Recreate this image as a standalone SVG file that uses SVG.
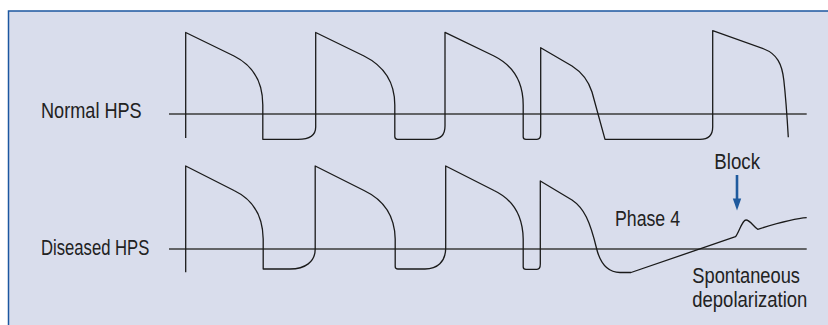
<svg xmlns="http://www.w3.org/2000/svg" width="828" height="325" viewBox="0 0 828 325">
  <style>
    .txt { font-family: "Liberation Sans", Arial, sans-serif; font-size: 21.5px; fill: #222; }
    .base { stroke: #3a3a3a; stroke-width: 1.6; fill: none; }
    .trace { stroke: #1a1a1a; stroke-width: 1.3; fill: none; stroke-linejoin: round; }
    .arrow { stroke: #1f5a9e; stroke-width: 2.6; fill: none; }
  </style>
  <rect x="0" y="0" width="828" height="325" fill="#ffffff"/>
  <rect id="panel" x="8.5" y="11" width="840" height="330" fill="#d9ddec" stroke="#1c57a0" stroke-width="1.5"/>

  <g id="normal">
    <text class="txt" x="41" y="118.3" textLength="100.7" lengthAdjust="spacingAndGlyphs">Normal HPS</text>
    <line class="base" x1="169" y1="114" x2="806.7" y2="114"/>
    <path class="trace" d="M185.7,138 V32.5 L234,56 C254,66 262.8,82 262.8,105 V139.3 H298 C310,139.3 315.7,135 315.7,127 V32.5 L364,56 C384,66 394.8,82 394.8,105 V136.5 C394.8,138.6 395.5,139.3 397.5,139.3 H432 C441,139.3 445,135 445,126 V32.3 L494,56 C514,66 523.2,82 523.2,105 V137 C523.2,139 524,139.3 526,139.3 H537 C539.5,139.3 540.7,137 540.7,134 V47.7 L572,66 C583,73 588.5,81 592,92 L605,139.3 H700 C708,139.3 712.7,135 712.7,127 V30.7 L764,49 C777,54 782,64 783.8,80 C785.5,95 787,115 788.3,137.3"/>
  </g>

  <g id="diseased">
    <text class="txt" x="41" y="255" textLength="108.3" lengthAdjust="spacingAndGlyphs">Diseased HPS</text>
    <line class="base" x1="169" y1="249" x2="806.7" y2="249"/>
    <path class="trace" d="M185.7,272.3 V166 L234,190.5 C254,200 262.8,216 263.2,239 V269 H290 C305,269 315.2,262 315.2,249 V166 L364,190.5 C384,200 394.8,216 395.2,239 V266.5 C395.2,268.6 396,269 398,269 H425 C437,269 445.7,262 445.7,248 V166 L494,190.5 C514,200 522.8,216 523.2,239 V267 C523.2,269 524,269.3 526,269.3 H537 C539.5,269.3 540.3,267 540.3,264 V181 L572,200 C584,208 590,221 596.7,249 C600.5,264 608,272.3 620,272.5 L631,272.5 L735.5,236.7 C739,233 742,220 746,220 C750,220 753,226 757.7,229.3 C775,224 793,218.5 806.7,217.7"/>
    <text class="txt" x="615" y="226" textLength="65" lengthAdjust="spacingAndGlyphs">Phase 4</text>
    <text class="txt" x="692.3" y="283.3" textLength="107.7" lengthAdjust="spacingAndGlyphs">Spontaneous</text>
    <text class="txt" x="692.3" y="306.7" textLength="115" lengthAdjust="spacingAndGlyphs">depolarization</text>
  </g>

  <g id="block">
    <text class="txt" x="714.3" y="169" textLength="45.7" lengthAdjust="spacingAndGlyphs">Block</text>
    <line class="arrow" x1="737" y1="175" x2="737" y2="200"/>
    <polygon points="732.8,198.5 741.2,198.5 737,210.5" fill="#1f5a9e"/>
  </g>
</svg>
